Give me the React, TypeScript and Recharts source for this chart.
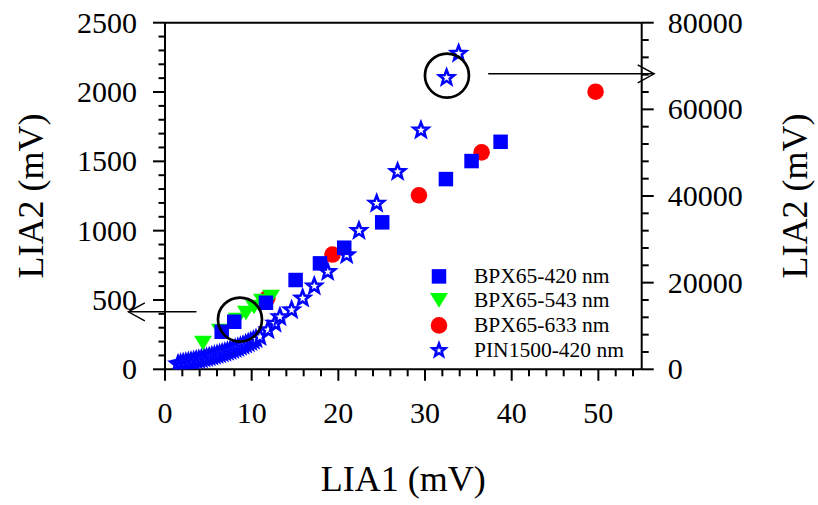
import React from 'react';
import { ScatterChart, Scatter, XAxis, YAxis, ReferenceLine, ReferenceDot, Legend } from 'recharts';

const W = 818;
const H = 505;
const FONT = '"Liberation Serif", "Times New Roman", serif';

// BPX65-420 nm (left axis)
const sq420X = [6.54, 7.99, 11.65, 15.07, 17.88, 20.68, 25.06, 32.41, 35.37, 38.72];
const sq420Y = [271, 343, 480, 644, 764, 877, 1060, 1372, 1502, 1641];
// BPX65-543 nm (left axis)
const tri543X = [4.38, 6.34, 8.3, 9.34, 10.27, 11.19, 12.23];
const tri543Y = [190, 276, 356, 406, 449, 493, 521];
// BPX65-633 nm (left axis)
const circ633X = [11.8, 19.32, 29.3, 36.53, 49.68];
const circ633Y = [512, 828, 1255, 1565, 2002];
// PIN1500-420 nm (right axis)
const pinX = [1.5, 1.8, 2.1, 2.4, 2.7, 3.0, 3.3, 3.6, 3.9, 4.2, 4.5, 4.8, 5.1, 5.4, 5.7, 6.0, 6.3, 6.6, 6.9, 7.2,
  7.5, 7.8, 8.1, 8.4, 8.7, 9.0, 9.3, 9.6, 9.9, 10.2, 10.5, 10.96,
  11.88, 12.69, 13.26, 14.61, 15.88, 17.22, 18.77, 20.96, 22.38, 24.42, 26.84, 29.53, 32.49, 33.88];
const pinY = [1200, 1320, 1440, 1560, 1690, 1820, 1950, 2090, 2230, 2380, 2530, 2680, 2840, 3000, 3170, 3340, 3520, 3710, 3900, 4100,
  4310, 4530, 4760, 5000, 5250, 5500, 5770, 6050, 6350, 6650, 7000, 7500,
  9070, 10600, 12100, 13700, 16400, 19200, 22500, 26400, 32000, 38300, 45600, 55200, 67300, 72900];

const seriesNames = ['BPX65-420 nm', 'BPX65-543 nm', 'BPX65-633 nm', 'PIN1500-420 nm'];
const seriesColors = ['#0000ff', '#00ff00', '#ff0000', '#0000ff'];
const seriesKinds = ['square', 'triangle', 'circle', 'star'];

const xMajor = [0, 10, 20, 30, 40, 50];
const xTicks = [0, 2, 4, 6, 8, 10, 12, 14, 16, 18, 20, 22, 24, 26, 28, 30, 32, 34, 36, 38, 40, 42, 44, 46, 48, 50, 52, 54];
const leftMajor = [0, 500, 1000, 1500, 2000, 2500];
const leftTicks = [0, 100, 200, 300, 400, 500, 600, 700, 800, 900, 1000, 1100, 1200, 1300, 1400, 1500, 1600, 1700, 1800, 1900, 2000, 2100, 2200, 2300, 2400, 2500];
const rightMajor = [0, 20000, 40000, 60000, 80000];
const rightTicks = [0, 4000, 8000, 12000, 16000, 20000, 24000, 28000, 32000, 36000, 40000, 44000, 48000, 52000, 56000, 60000, 64000, 68000, 72000, 76000, 80000];

const xLabel = 'LIA1 (mV)';
const yLabel = 'LIA2 (mV)';

// annotations (data coords)
const circleLeft = { x: 8.65, y: 359 };
const circleRight = { x: 32.53, y: 67800 };
const arrowLeft = [{ x: 3.63, y: 415 }, { x: -4.23, y: 415 }];
const arrowRight = [{ x: 37.29, y: 68200 }, { x: 56.44, y: 68200 }];

const zip = (xs: number[], ys: number[]) => xs.map((x, i) => ({ x, y: ys[i] }));

const starPoints = (cx: number, cy: number, R: number, r: number) => {
  const pts: string[] = [];
  for (let i = 0; i < 10; i++) {
    const a = -Math.PI / 2 + (i * Math.PI) / 5;
    const rad = i % 2 === 0 ? R : r;
    pts.push(`${cx + rad * Math.cos(a)},${cy + rad * Math.sin(a)}`);
  }
  return pts.join(' ');
};

const Marker = ({ kind, cx, cy, color, scale = 1 }: any) => {
  if (kind === 'square') {
    const s = 14.5 * scale;
    return <rect x={cx - s / 2} y={cy - s / 2} width={s} height={s} fill={color} />;
  }
  if (kind === 'triangle') {
    const hw = 9 * scale;
    const hh = 7.3 * scale;
    return <polygon points={`${cx - hw},${cy - hh} ${cx + hw},${cy - hh} ${cx},${cy + hh}`} fill={color} />;
  }
  if (kind === 'circle') {
    return <circle cx={cx} cy={cy} r={8.3 * scale} fill={color} />;
  }
  return <polygon points={starPoints(cx, cy, 7.8 * scale, 3.3 * scale)} fill="#fff" stroke={color} strokeWidth={2.6} strokeLinejoin="miter" />;
};

const mkShape = (kind: string, color: string) => (p: any) => <Marker kind={kind} cx={p.cx} cy={p.cy} color={color} />;

const XTick = (p: any) => {
  const { x, y, payload } = p;
  const v = payload.value;
  const major = xMajor.includes(v);
  return (
    <g>
      <line x1={x} x2={x} y1={y} y2={y + (major ? 11.5 : 7)} stroke="#000" strokeWidth={2} />
      {major && (
        <text x={x} y={y + 54} textAnchor="middle" fontFamily={FONT} fontSize={30} fill="#000">{v}</text>
      )}
    </g>
  );
};

const LeftTick = (p: any) => {
  const { x, y, payload } = p;
  const v = payload.value;
  const major = leftMajor.includes(v);
  return (
    <g>
      <line x1={x - (major ? 12 : 6.5)} x2={x} y1={y} y2={y} stroke="#000" strokeWidth={2} />
      {major && (
        <text x={x - 28} y={y + 10} textAnchor="end" fontFamily={FONT} fontSize={30} fill="#000">{v}</text>
      )}
    </g>
  );
};

const RightTick = (p: any) => {
  const { x, y, payload } = p;
  const v = payload.value;
  const major = rightMajor.includes(v);
  return (
    <g>
      <line x1={x} x2={x + (major ? 12 : 7)} y1={y} y2={y} stroke="#000" strokeWidth={2} />
      {major && (
        <text x={x + 26} y={y + 10} textAnchor="start" fontFamily={FONT} fontSize={30} fill="#000">{v}</text>
      )}
    </g>
  );
};

const Arrow = (p: any) => {
  const { x1, y1, x2, y2 } = p;
  const dir = Math.sign(x2 - x1) || 1;
  return (
    <g>
      <line x1={x1} y1={y1} x2={x2} y2={y2} stroke="#000" strokeWidth={1.4} />
      <polyline
        points={`${x2 - dir * 16.5},${y2 - 9} ${x2},${y2} ${x2 - dir * 16.5},${y2 + 9}`}
        fill="none"
        stroke="#000"
        strokeWidth={1.4}
      />
    </g>
  );
};

const LegendBox = () => (
  <div style={{ fontFamily: FONT, fontSize: 21.5, color: '#000' }}>
    {seriesNames.map((n, i) => (
      <div key={n} style={{ display: 'flex', alignItems: 'center', height: 24.8, whiteSpace: 'nowrap' }}>
        <svg width={28} height={24.8} style={{ display: 'block' }}>
          <Marker kind={seriesKinds[i]} cx={14} cy={12.4} color={seriesColors[i]} scale={seriesKinds[i] === 'star' ? 0.85 : 1} />
        </svg>
        <span style={{ marginLeft: 21, lineHeight: '24.8px' }}>{n}</span>
      </div>
    ))}
  </div>
);

export default function App() {
  const margin = { top: 22.7, right: 76.3, bottom: 75.7, left: 65 };
  return (
    <div style={{ position: 'absolute', left: 0, top: 0, width: W, height: H, background: '#fff' }}>
      <ScatterChart width={W} height={H} margin={margin}>
        <XAxis
          type="number"
          dataKey="x"
          domain={[0, 55]}
          ticks={xTicks}
          interval={0}
          height={60}
          tickSize={0}
          tickMargin={0}
          tick={<XTick />}
          axisLine={{ stroke: '#000', strokeWidth: 2 }}
          allowDataOverflow
        />
        <YAxis
          yAxisId="left"
          type="number"
          dataKey="y"
          domain={[0, 2500]}
          ticks={leftTicks}
          interval={0}
          width={100}
          tickSize={0}
          tickMargin={0}
          tick={<LeftTick />}
          axisLine={{ stroke: '#000', strokeWidth: 2 }}
          allowDataOverflow
        />
        <YAxis
          yAxisId="right"
          orientation="right"
          type="number"
          dataKey="y"
          domain={[0, 80000]}
          ticks={rightTicks}
          interval={0}
          width={100}
          tickSize={0}
          tickMargin={0}
          tick={<RightTick />}
          axisLine={{ stroke: '#000', strokeWidth: 2 }}
          allowDataOverflow
        />
        <ReferenceLine yAxisId="left" y={2500} stroke="#000" strokeWidth={2} ifOverflow="visible" />
        <Scatter name={seriesNames[3]} yAxisId="right" data={zip(pinX, pinY)} shape={mkShape('star', seriesColors[3])} isAnimationActive={false} />
        <Scatter name={seriesNames[2]} yAxisId="left" data={zip(circ633X, circ633Y)} shape={mkShape('circle', seriesColors[2])} isAnimationActive={false} />
        <Scatter name={seriesNames[1]} yAxisId="left" data={zip(tri543X, tri543Y)} shape={mkShape('triangle', seriesColors[1])} isAnimationActive={false} />
        <Scatter name={seriesNames[0]} yAxisId="left" data={zip(sq420X, sq420Y)} shape={mkShape('square', seriesColors[0])} isAnimationActive={false} />
        <ReferenceDot yAxisId="left" x={circleLeft.x} y={circleLeft.y} r={22} fill="none" stroke="#000" strokeWidth={2.7} ifOverflow="visible" />
        <ReferenceDot yAxisId="right" x={circleRight.x} y={circleRight.y} r={22} fill="none" stroke="#000" strokeWidth={2.7} ifOverflow="visible" />
        <ReferenceLine yAxisId="left" segment={arrowLeft} ifOverflow="visible" shape={<Arrow />} />
        <ReferenceLine yAxisId="right" segment={arrowRight} ifOverflow="visible" shape={<Arrow />} />
        <Legend
          layout="vertical"
          align="center"
          verticalAlign="middle"
          content={() => <LegendBox />}
          wrapperStyle={{ left: 425, top: 263.5, width: 220 }}
        />
      </ScatterChart>
      <svg width={W} height={H} style={{ position: 'absolute', left: 0, top: 0, pointerEvents: 'none' }}>
        <text x={403.3} y={491} textAnchor="middle" fontFamily={FONT} fontSize={36} fill="#000">{xLabel}</text>
        <text transform="translate(43.3,196) rotate(-90)" textAnchor="middle" fontFamily={FONT} fontSize={36} fill="#000">{yLabel}</text>
        <text transform="translate(806.7,196) rotate(-90)" textAnchor="middle" fontFamily={FONT} fontSize={36} fill="#000">{yLabel}</text>
      </svg>
    </div>
  );
}
